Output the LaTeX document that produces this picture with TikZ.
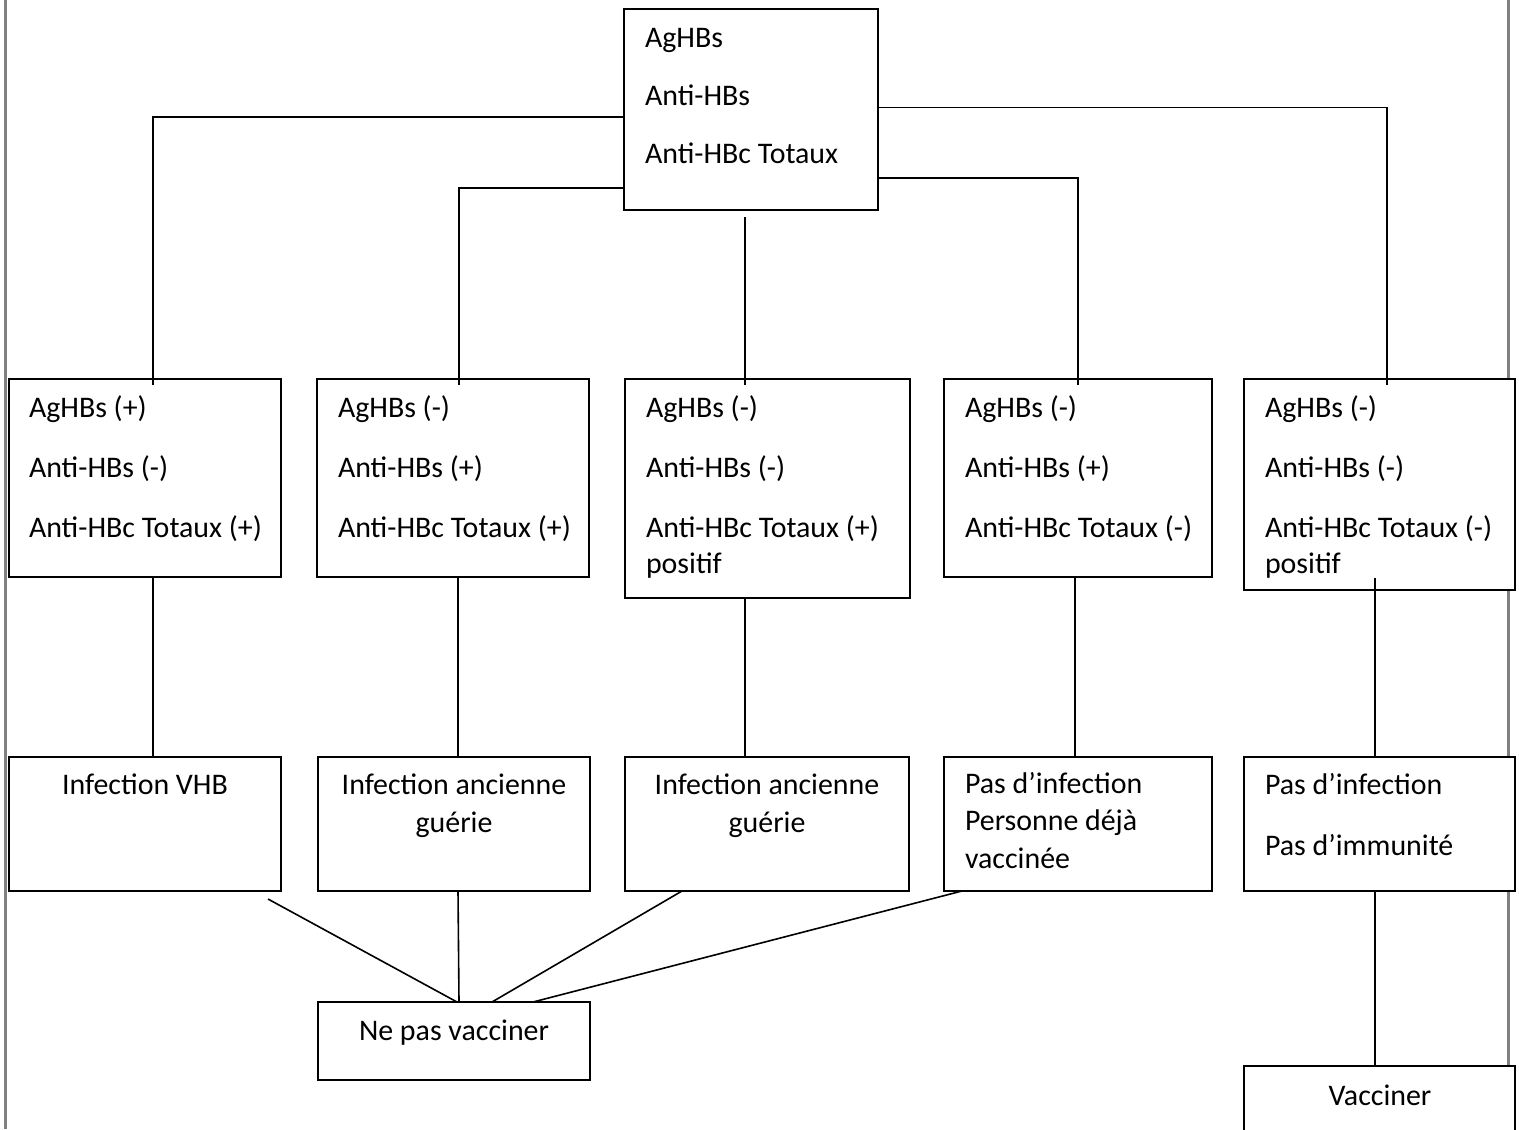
\documentclass[tikz,border=0pt]{standalone}
\usepackage{fontspec}
\setmainfont{Carlito}
\definecolor{pageedge}{RGB}{128,128,128}
\begin{document}
\begin{tikzpicture}[x=0.5pt,y=-0.5pt,
  bx/.style={draw=black, line width=0.8pt, fill=white, anchor=north west, inner sep=0pt, outer sep=0pt},
  txt/.style={anchor=base west, inner sep=0pt, outer sep=0pt, font=\fontsize{14.95pt}{17pt}\selectfont},
  ctxt/.style={txt, anchor=base},
  ln/.style={line width=0.8pt, draw=black},
  pageline/.style={draw=pageedge, line width=1.5pt}]
\useasboundingbox (0,0) rectangle (1519,1129);

% page edges
\draw[pageline] (5.5,0) -- (5.5,1129);
\draw[pageline] (1508.5,0) -- (1508.5,1065);

% boxes
\node[bx, minimum width=127pt, minimum height=100.5pt] (top) at (624,9) {};
\node[bx, minimum width=136pt, minimum height=99pt] (b1) at (9,379) {};
\node[bx, minimum width=136pt, minimum height=99pt] (b2) at (317,379) {};
\node[bx, minimum width=142.5pt, minimum height=109.5pt] (b3) at (625,379) {};
\node[bx, minimum width=134pt, minimum height=99pt] (b4) at (944,379) {};
\node[bx, minimum width=135.5pt, minimum height=105.5pt] (b5) at (1244,379) {};
\node[bx, minimum width=136pt, minimum height=67pt] (c1) at (9,757) {};
\node[bx, minimum width=136pt, minimum height=67pt] (c2) at (318,757) {};
\node[bx, minimum width=142pt, minimum height=67pt] (c3) at (625,757) {};
\node[bx, minimum width=134pt, minimum height=67pt] (c4) at (944,757) {};
\node[bx, minimum width=135.5pt, minimum height=67pt] (c5) at (1244,757) {};
\node[bx, minimum width=136pt, minimum height=39pt] (np) at (318,1002) {};
\node[bx, minimum width=135.5pt, minimum height=36pt] (vac) at (1244,1066) {};

% texts
\foreach \t [count=\i] in {AgHBs, Anti-HBs, Anti-HBc Totaux}
  \node[txt] (top-t\i) at (645,{48+57.5*(\i-1)}) {\t};
\foreach \t [count=\i] in {AgHBs (+), Anti-HBs (-), Anti-HBc Totaux (+)}
  \node[txt] (b1-t\i) at (29,{417+60*(\i-1)}) {\t};
\foreach \t [count=\i] in {AgHBs (-), Anti-HBs (+), Anti-HBc Totaux (+)}
  \node[txt] (b2-t\i) at (338,{417+60*(\i-1)}) {\t};
\foreach \t [count=\i] in {AgHBs (-), Anti-HBs (-), Anti-HBc Totaux (+)}
  \node[txt] (b3-t\i) at (646,{417+60*(\i-1)}) {\t};
\node[txt] (b3-t4) at (646,573) {positif};
\foreach \t [count=\i] in {AgHBs (-), Anti-HBs (+), Anti-HBc Totaux (-)}
  \node[txt] (b4-t\i) at (965,{417+60*(\i-1)}) {\t};
\foreach \t [count=\i] in {AgHBs (-), Anti-HBs (-), Anti-HBc Totaux (-)}
  \node[txt] (b5-t\i) at (1265,{417+60*(\i-1)}) {\t};
\node[txt] (b5-t4) at (1265,573) {positif};

\node[ctxt] (c1-t1) at (145,794) {Infection VHB};
\node[ctxt] (c2-t1) at (454,794) {Infection ancienne};
\node[ctxt] (c2-t2) at (454,832) {guérie};
\node[ctxt] (c3-t1) at (767,794) {Infection ancienne};
\node[ctxt] (c3-t2) at (767,832) {guérie};
\node[txt] (c4-t1) at (965,793) {Pas d’infection};
\node[txt] (c4-t2) at (965,830.5) {Personne déjà};
\node[txt] (c4-t3) at (965,868) {vaccinée};
\node[txt] (c5-t1) at (1265,794) {Pas d’infection};
\node[txt] (c5-t2) at (1265,855) {Pas d’immunité};
\node[ctxt] (np-t) at (454,1040) {Ne pas vacciner};
\node[ctxt] (vac-t) at (1380,1105) {Vacciner};

% connectors: top -> row 2
\draw[ln] ([yshift=-3.75pt]top.west) -| ([xshift=4pt,yshift=-3pt]b1.north);
\draw[ln] ([yshift=-39.25pt]top.west) -| ([xshift=3pt,yshift=-3pt]b2.north);
\draw[ln] ([xshift=-3pt,yshift=-3.5pt]top.south) -- ([xshift=-11.25pt,yshift=-3pt]b3.north);
\draw[ln] ([yshift=-34.25pt]top.east) -| ([yshift=-3pt]b4.north);
\draw[ln] ([yshift=1pt]top.east) -| ([xshift=3.75pt,yshift=-3pt]b5.north);

% row 2 -> row 3
\draw[ln] ([xshift=4pt]b1.south) -- ([xshift=4pt]c1.north);
\draw[ln] ([xshift=2.5pt]b2.south) -- ([xshift=2pt]c2.north);
\draw[ln] ([xshift=-11.25pt]b3.south) -- ([xshift=-11pt]c3.north);
\draw[ln] ([xshift=-1.5pt]b4.south) -- ([xshift=-1.5pt]c4.north);
\draw[ln] ([xshift=-2.25pt,yshift=6pt]b5.south) -- ([xshift=-2.25pt]c5.north);

% row 3 -> decisions
\draw[ln] ([xshift=-6.5pt,yshift=-4pt]c1.south east) -- ([xshift=1.5pt]np.north);
\draw[ln] ([xshift=2pt]c2.south) -- ([xshift=2.5pt]np.north);
\draw[ln] ([xshift=28.5pt]c3.south west) -- ([xshift=19pt]np.north);
\draw[ln] ([xshift=9pt]c4.south west) -- ([xshift=39.5pt]np.north);
\draw[ln] ([xshift=-2.25pt]c5.south) -- ([xshift=-2.25pt]vac.north);
\end{tikzpicture}
\end{document}
